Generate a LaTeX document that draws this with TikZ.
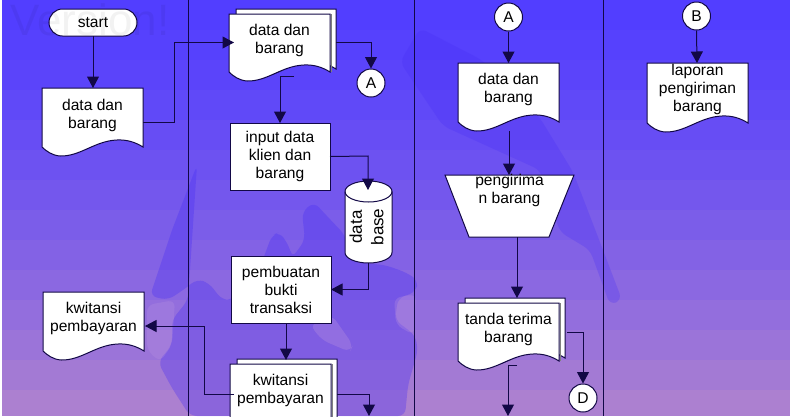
\documentclass[tikz,border=0pt]{standalone}
\usepackage{fontspec}
\setmainfont{Liberation Sans}
\usetikzlibrary{arrows.meta}
\definecolor{bgtop}{RGB}{82,62,255}
\definecolor{bgbot}{RGB}{172,128,208}
\definecolor{ink}{RGB}{18,8,70}
\definecolor{blob}{RGB}{70,45,245}
\definecolor{blobl}{RGB}{190,150,225}
\tikzset{
  x=1pt,y=-1pt,
  conn/.style={draw=ink,line width=1pt},
  flow/.style={conn,-{Triangle[length=11.5pt,width=12pt]}},
  shapeline/.style={draw=ink,line width=1pt,fill=white},
  lane/.style={draw=ink,line width=0.8pt},
  holder/.style={inner sep=0pt,outer sep=0pt,font=\fontsize{15.6}{18}\selectfont,text=black},
  circ/.style={circle,draw=ink,line width=1pt,fill=white,minimum size=28pt,inner sep=0pt,font=\fontsize{15.6}{18}\selectfont},
  boxn/.style={draw=ink,line width=1pt,fill=white,inner sep=0pt,outer sep=0pt,align=center,font=\fontsize{15.6}{18}\selectfont},
  blobshape/.style={rounded corners=7pt},
}
\newcommand{\shiftlbl}[2]{\raisebox{#1}[0pt][0pt]{\begin{tabular}{@{}c@{}}#2\end{tabular}}}
\newcommand{\docpath}[4]{%
  \pgfmathsetmacro{\wv}{#2-#1}%
  \path[shapeline] (#1,#3) -- (#2,#3) -- (#2,#4)
    .. controls ({#2-0.08*\wv},{#4-5}) and ({#2-0.16*\wv},{#4-7.5}) .. ({#2-0.26*\wv},{#4-7})
    .. controls ({#2-0.48*\wv},{#4-6}) and ({#1+0.38*\wv},{#4+9.5}) .. ({#1+0.18*\wv},{#4+9})
    .. controls ({#1+0.10*\wv},{#4+8.5}) and ({#1+0.04*\wv},{#4+4}) .. (#1,#4) -- cycle;}
% name, x0, x1, y0, ybottom, text shift, lines
\newcommand{\docnode}[7]{%
  \docpath{#2}{#3}{#4}{#5}%
  \pgfmathsetmacro{\dnx}{(#2+#3)/2}\pgfmathsetmacro{\dny}{(#4+#5+9)/2}%
  \pgfmathsetmacro{\dnw}{#3-#2}\pgfmathsetmacro{\dnh}{#5+9-#4}%
  \node[holder,minimum width=\dnw pt,minimum height=\dnh pt] (#1) at (\dnx,\dny) {\shiftlbl{#6}{#7}};}
\newcommand{\stacknode}[7]{%
  \pgfmathsetmacro{\bxa}{#2+7}\pgfmathsetmacro{\bxb}{#3+6}%
  \pgfmathsetmacro{\bya}{#4-5}\pgfmathsetmacro{\byb}{#5-3}%
  \docpath{\bxa}{\bxb}{\bya}{\byb}%
  \pgfmathsetmacro{\gsx}{#3+1.2}%
  \draw[gray,line width=1pt] (\gsx,#4) -- (\gsx,#5);%
  \docnode{#1}{#2}{#3}{#4}{#5}{#6}{#7}}
\begin{document}
\begin{tikzpicture}
\useasboundingbox (0,0) rectangle (793,416);
\fill[white] (0,0) rectangle (793,416);
\foreach \i in {0,...,13}{
  \pgfmathsetmacro{\p}{100-100*(\i/13)^1.25}
  \fill[bgtop!\p!bgbot] (2,{\i*30}) rectangle (790,416);
}
\fill[blob,opacity=.32,blobshape] (197,165) -- (172,230) -- (150,296) -- (168,300) -- (186,288) -- (197,279) -- (209,283) -- (222,300) -- (232,300)
  -- (262,262) -- (272,235) -- (280,232) -- (290,248) -- (292,258) -- (305,240) -- (302,212) -- (314,202) -- (326,215) -- (345,235)
  -- (352,262) -- (385,265) -- (405,272) -- (418,280) -- (416,292) -- (398,298) -- (395,320) -- (415,335) -- (418,350) -- (408,385)
  -- (405,416) -- (190,416) -- (172,388) -- (158,362) -- (172,345) -- (172,320) -- (188,300) -- cycle;
\fill[blob,opacity=.25,blobshape] (400,62) -- (420,28) -- (482,60) -- (540,118) -- (573,172) -- (603,250) -- (622,300) -- (610,305) -- (590,250) -- (560,232) -- (540,170) -- (443,126) -- cycle;
\fill[blobl,opacity=.25,blobshape] (147,305) -- (175,300) -- (172,345) -- (160,362) -- (147,350) -- cycle;
\fill[blobl,opacity=.30,blobshape] (310,325) -- (332,315) -- (353,345) -- (350,352) -- (322,340) -- cycle;
\fill[blobl,opacity=.28,blobshape] (394,298) -- (416,294) -- (414,335) -- (396,325) -- cycle;
\coordinate (lane1a) at (188.5,0); \coordinate (lane1b) at (188.5,416);
\coordinate (lane2a) at (414,0);   \coordinate (lane2b) at (414,416);
\coordinate (lane3a) at (603.5,0); \coordinate (lane3b) at (603.5,416);
\draw[lane] (lane1a) -- (lane1b);
\draw[lane] (lane2a) -- (lane2b);
\draw[lane] (lane3a) -- (lane3b);
\node[boxn,rounded corners=13.5pt,minimum width=88pt,minimum height=27pt] (start) at (93,22.5) {start};
\docnode{doc1}{42}{143}{88}{147}{3pt}{data dan\\barang}
\docnode{kw1}{43}{144}{292}{351}{4pt}{kwitansi\\pembayaran}
\stacknode{st1}{229}{330}{14}{72}{3.5pt}{data dan\\barang}
\node[circ] (a1) at (371,83) {A};
\node[boxn,minimum width=100pt,minimum height=67pt] (input) at (280,156.5) {input data\\klien dan\\barang};
\path[shapeline] (345,191.5) .. controls (345,185.7) and (355.5,181) .. (368.5,181) .. controls (381.5,181) and (392,185.7) .. (392,191.5) -- (392,252.5) .. controls (392,258.3) and (381.5,263) .. (368.5,263) .. controls (355.5,263) and (345,258.3) .. (345,252.5) -- cycle;
\draw[conn] (345,191.5) .. controls (345,197.3) and (355.5,202) .. (368.5,202) .. controls (381.5,202) and (392,197.3) .. (392,191.5);
\node[holder,rotate=90,font=\fontsize{17}{18}\selectfont] (db) at (369,227) {\begin{tabular}{@{}c@{}}data\\[3.5pt]base\end{tabular}};
\node[boxn,minimum width=100pt,minimum height=67pt] (bukti) at (281,289.5) {pembuatan\\bukti\\transaksi};
\stacknode{st2}{230}{331}{364}{460}{22pt}{kwitansi\\pembayaran}
\node[circ] (a2) at (508.5,17) {A};
\docnode{doc3}{458}{559}{63}{122}{4pt}{data dan\\barang}
\path[shapeline] (445,175) -- (574,175) -- (549,237) -- (469,237) -- cycle;
\node[holder,minimum width=129pt,minimum height=62pt] (trap) at (509.5,206) {\shiftlbl{11.5pt}{pengirima\\n barang}};
\stacknode{st3}{458}{559}{303}{361}{3.5pt}{tanda terima\\barang}
\node[circ] (d) at (583,398) {D};
\node[circ] (b) at (696.5,16) {B};
\docnode{doc4}{647}{748}{63}{123}{4pt}{laporan\\pengiriman\\barang}
\coordinate (in1) at (234,42.5);
\coordinate (st1out) at (336,42.5);
\coordinate (st1stub) at (294,76);
\coordinate (cyltop) at (368,190);
\coordinate (cylbot) at (368,263);
\coordinate (buktiout) at (286,323);
\coordinate (st2top) at (286,360);
\coordinate (st2left) at (234,394);
\coordinate (st2right) at (337,394);
\coordinate (off1) at (369,416);
\coordinate (d3out) at (509,131);
\coordinate (traptop) at (509,175);
\coordinate (trapout) at (517,237);
\coordinate (st3top) at (517,298);
\coordinate (st3out) at (567,332);
\coordinate (st3stub) at (517,365);
\coordinate (off2) at (508,416);
\coordinate (doc1out) at (143,122);
\coordinate (kwin) at (145,326);
\draw[flow] (start.south) -- (doc1.north -| start.south);
\draw[flow] (doc1out) -- (174,122) |- (in1);
\draw[flow] (st1out) -| (a1.north);
\draw[flow] (st1stub) -- (280,76) -- (input.north -| 280,76);
\draw[flow] (input.east) -- (368,156) -- (cyltop);
\draw[flow] (cylbot) -- (368,289.5) -- (bukti.east);
\draw[flow] (buktiout) -- (st2top);
\draw[flow] (st2left) -- (204,394) -- (204,326) -- (kwin);
\draw[flow] (st2right) -- (369,394) -- (off1);
\draw[flow] (a2.south) -- (doc3.north);
\draw[flow] (d3out) -- (traptop);
\draw[flow] (trapout) -- (st3top);
\draw[flow] (st3out) -- (583,332) -- (d.north);
\draw[flow] (st3stub) -- (508,365) -- (off2);
\draw[flow] (b.south) -- (697,63);
\node[holder,font=\fontsize{44}{44}\selectfont,text=black,opacity=.05] (wm) at (90,20) {Version!};
\end{tikzpicture}
\end{document}
